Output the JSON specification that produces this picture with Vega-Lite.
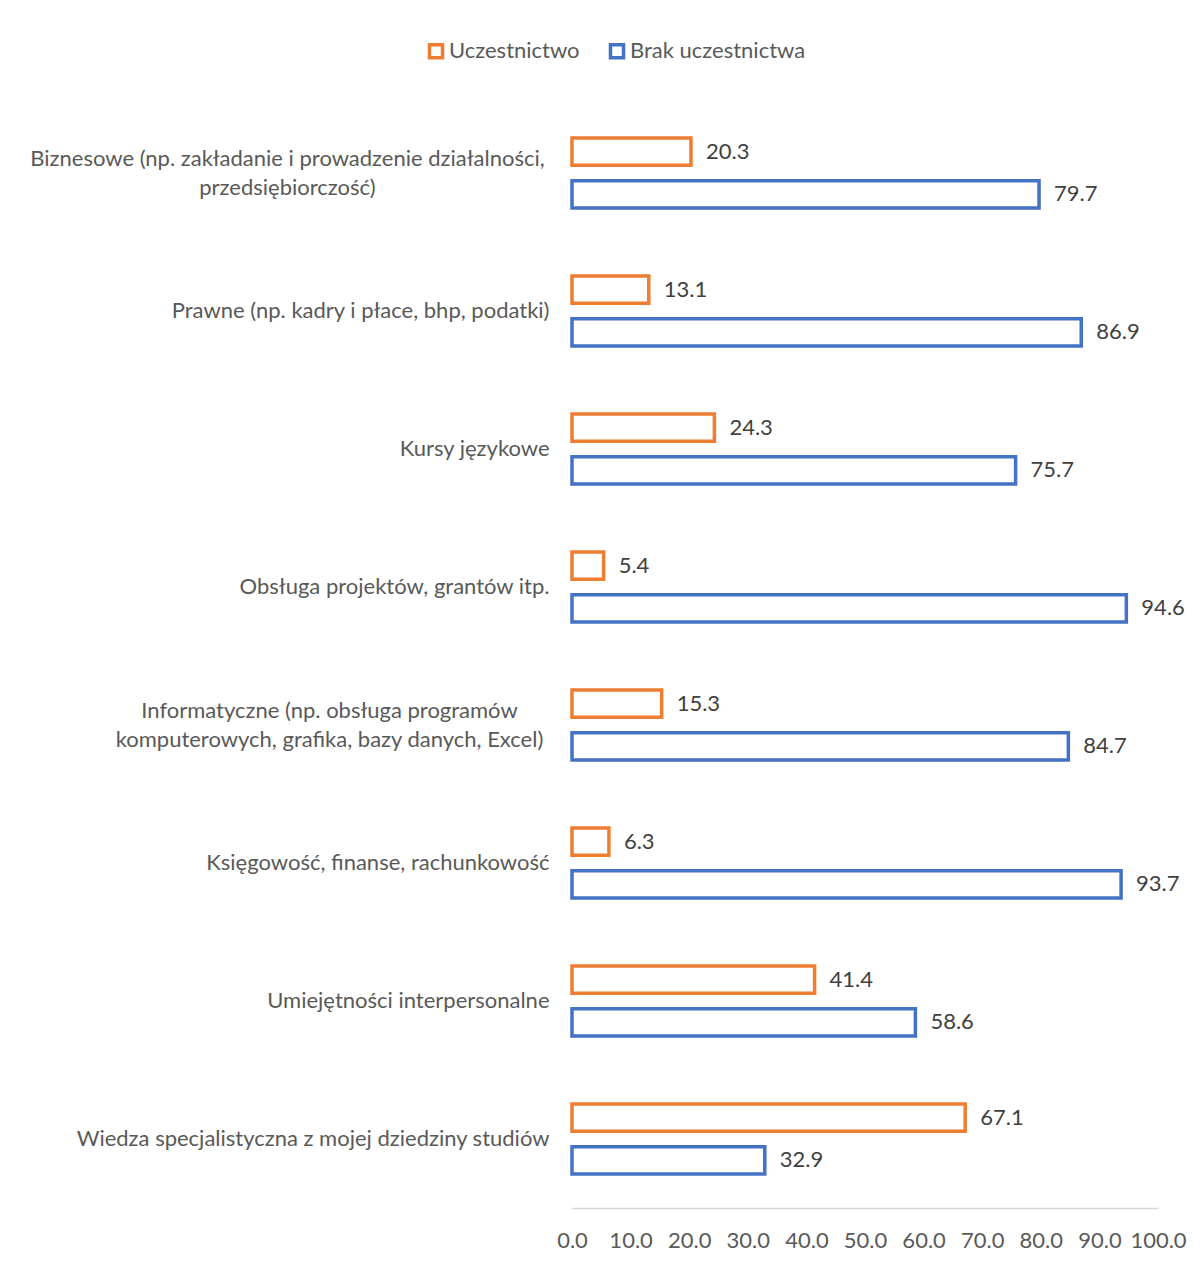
{
  "$schema": "https://vega.github.io/schema/vega-lite/v6.json",
  "width": 586,
  "height": 1104,
  "autosize": {"type": "none"},
  "padding": {"left": 572, "top": 104, "right": 44, "bottom": 53},
  "background": "white",
  "config": {"view": {"stroke": null}, "font": "Lato"},
  "data": {
    "values": [
      {"kategoria": "Biznesowe (np. zakładanie i prowadzenie działalności,|przedsiębiorczość)", "seria": "Uczestnictwo", "wartosc": 20.3},
      {"kategoria": "Biznesowe (np. zakładanie i prowadzenie działalności,|przedsiębiorczość)", "seria": "Brak uczestnictwa", "wartosc": 79.7},
      {"kategoria": "Prawne (np. kadry i płace, bhp, podatki)", "seria": "Uczestnictwo", "wartosc": 13.1},
      {"kategoria": "Prawne (np. kadry i płace, bhp, podatki)", "seria": "Brak uczestnictwa", "wartosc": 86.9},
      {"kategoria": "Kursy językowe", "seria": "Uczestnictwo", "wartosc": 24.3},
      {"kategoria": "Kursy językowe", "seria": "Brak uczestnictwa", "wartosc": 75.7},
      {"kategoria": "Obsługa projektów, grantów itp.", "seria": "Uczestnictwo", "wartosc": 5.4},
      {"kategoria": "Obsługa projektów, grantów itp.", "seria": "Brak uczestnictwa", "wartosc": 94.6},
      {"kategoria": "Informatyczne (np. obsługa programów|komputerowych, grafika, bazy danych, Excel)", "seria": "Uczestnictwo", "wartosc": 15.3},
      {"kategoria": "Informatyczne (np. obsługa programów|komputerowych, grafika, bazy danych, Excel)", "seria": "Brak uczestnictwa", "wartosc": 84.7},
      {"kategoria": "Księgowość, finanse, rachunkowość", "seria": "Uczestnictwo", "wartosc": 6.3},
      {"kategoria": "Księgowość, finanse, rachunkowość", "seria": "Brak uczestnictwa", "wartosc": 93.7},
      {"kategoria": "Umiejętności interpersonalne", "seria": "Uczestnictwo", "wartosc": 41.4},
      {"kategoria": "Umiejętności interpersonalne", "seria": "Brak uczestnictwa", "wartosc": 58.6},
      {"kategoria": "Wiedza specjalistyczna z mojej dziedziny studiów", "seria": "Uczestnictwo", "wartosc": 67.1},
      {"kategoria": "Wiedza specjalistyczna z mojej dziedziny studiów", "seria": "Brak uczestnictwa", "wartosc": 32.9}
    ]
  },
  "encoding": {
    "y": {
      "field": "kategoria",
      "type": "nominal",
      "sort": null,
      "scale": {"paddingInner": 0, "paddingOuter": 0},
      "axis": {
        "title": null,
        "domain": false,
        "ticks": false,
        "labelFontSize": 22,
        "labelColor": "#595959",
        "labelLimit": 0,
        "labelLineHeight": 29,
        "labelExpr": "split(datum.value, '|')",
        "labelAlign": {"condition": {"test": "indexof(datum.value, '|') >= 0", "value": "center"}, "value": "right"},
        "labelOffset": {"condition": {"test": "indexof(datum.value, '|') >= 0", "value": -14.5}, "value": 0},
        "labelPadding": {"condition": [
          {"test": "indexof(datum.value, 'Biznesowe') >= 0", "value": 285},
          {"test": "indexof(datum.value, 'Informatyczne') >= 0", "value": 243}
        ], "value": 23}
      }
    },
    "yOffset": {
      "field": "seria",
      "type": "nominal",
      "sort": ["Uczestnictwo", "Brak uczestnictwa"],
      "scale": {"paddingInner": 0.36, "paddingOuter": 0.8}
    },
    "x": {
      "field": "wartosc",
      "type": "quantitative",
      "scale": {"domain": [0, 100], "nice": false},
      "axis": {
        "title": null,
        "values": [0, 10, 20, 30, 40, 50, 60, 70, 80, 90, 100],
        "format": ".1f",
        "grid": false,
        "ticks": false,
        "domainColor": "#d9d9d9",
        "domainWidth": 1.5,
        "labelFontSize": 22,
        "labelColor": "#595959",
        "labelFlush": false,
        "labelPadding": 22
      }
    }
  },
  "layer": [
    {
      "mark": {"type": "bar", "fill": "white", "strokeWidth": 3.5},
      "encoding": {
        "stroke": {
          "field": "seria",
          "type": "nominal",
          "sort": ["Uczestnictwo", "Brak uczestnictwa"],
          "scale": {"domain": ["Uczestnictwo", "Brak uczestnictwa"], "range": ["#ED7D31", "#4472C4"]},
          "legend": {
            "title": null,
            "orient": "none",
            "legendX": -147,
            "legendY": -64,
            "direction": "horizontal",
            "symbolType": "square",
            "symbolSize": 170,
            "symbolStrokeWidth": 3.5,
            "symbolFillColor": "white",
            "labelFontSize": 22,
            "labelColor": "#595959",
            "labelLimit": 0,
            "labelOffset": 2,
            "columnPadding": 23
          }
        }
      }
    },
    {
      "mark": {"type": "text", "align": "left", "baseline": "middle", "dx": 15, "fontSize": 22, "color": "#404040"},
      "encoding": {
        "text": {"field": "wartosc", "type": "quantitative", "format": ".1f"}
      }
    }
  ]
}
